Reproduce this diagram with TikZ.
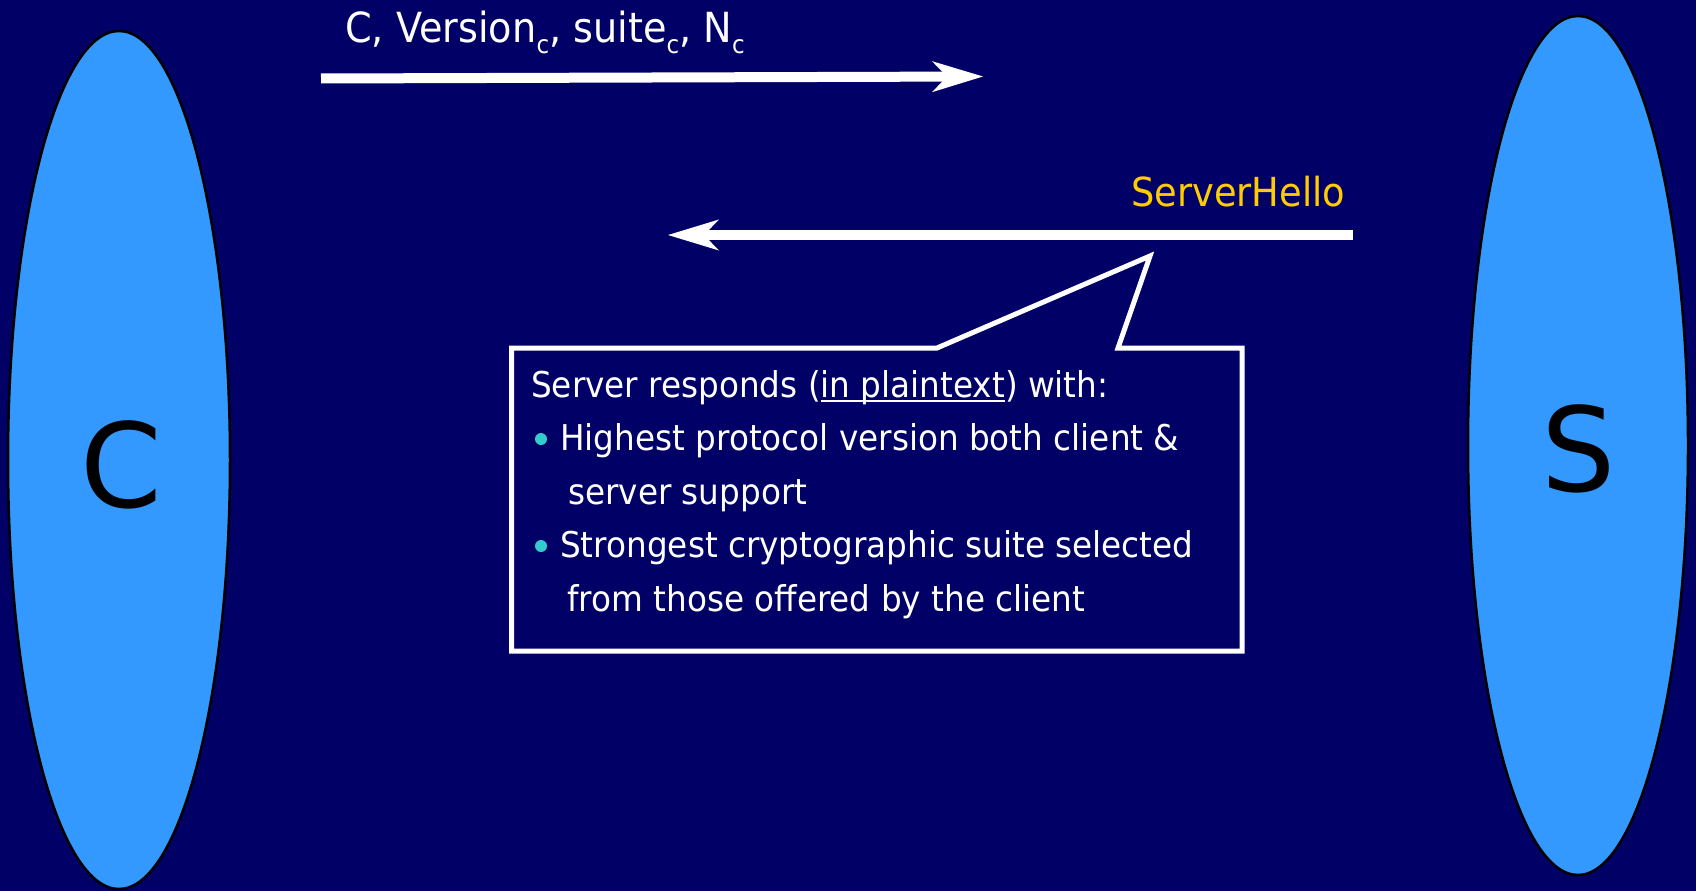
\documentclass[tikz,border=0pt]{standalone}
\usepackage{fontspec}
\setmainfont{DejaVu Sans}[FakeStretch=0.92]
\newfontfamily\letterfont{DejaVu Sans}
\usetikzlibrary{arrows.meta,shapes.geometric}

\definecolor{navy}{HTML}{000066}
\definecolor{partyblue}{HTML}{3399FF}
\definecolor{gold}{HTML}{FFCC00}
\definecolor{bulletcol}{HTML}{33CCCC}

% lowered small letter used as an index
\newcommand\lowc[1]{\raisebox{-10pt}{\fontsize{25}{25}\selectfont #1}}
% underline with a fixed rule
\newcommand\plainul[1]{\setbox0\hbox{#1}\rlap{\rule[-4.5pt]{\wd0}{2pt}}\box0}

\begin{document}
\begin{tikzpicture}[x=1pt,y=-1pt,
  party/.style={ellipse, draw=black, line width=2.5pt, fill=partyblue, inner sep=0pt},
  letter/.style={font=\letterfont\fontsize{117}{117}\selectfont, text=black, inner sep=0pt},
  msg/.style={draw=white, line width=10pt,
    -{Stealth[length=51pt,width=31pt,inset=15pt,line width=0pt]}},
  lbl/.style={inner sep=0pt, anchor=base west, text=white,
    font=\fontsize{41.5}{41.5}\selectfont},
  body/.style={inner sep=0pt, anchor=base west, text=white,
    font=\fontsize{35.5}{35.5}\selectfont},
  callout/.style={draw=white, line width=5pt, fill=navy, line join=miter},
  dot/.style={circle, fill=bulletcol, inner sep=0pt, minimum size=12pt},
]
% background
\fill[navy] (0,0) rectangle (1696,891);
\useasboundingbox (0,0) rectangle (1696,891);

% the two parties
\node[party, minimum width=222pt, minimum height=858pt] (cli) at (119,460) {};
\node[letter] (cliname) at (121,465) {C};
\node[party, minimum width=220pt, minimum height=859pt] (srv) at (1578,445.5) {};
\node[letter] (srvname) at (1579,449) {S};

% client hello
\coordinate (m1s) at (321,78.5);
\coordinate (m1e) at (983,76.5);
\draw[msg] (m1s) -- (m1e);
\node[lbl] (m1) at (345,43) {C, Version\lowc{c}, suite\lowc{c}, N\lowc{c}};

% server hello
\coordinate (m2s) at (1353,235);
\coordinate (m2e) at (668,235);
\draw[msg] (m2s) -- (m2e);
\node[lbl, text=gold, font=\fontsize{40}{40}\selectfont] (m2) at (1131,206) {ServerHello};

% callout box with its pointer
\draw[callout] (511.5,348) -- (937,348) -- (1150,256) -- (1118,348)
  -- (1242,348) -- (1242,651) -- (511.5,651) -- cycle;

\node[body] (t1) at (531,397) {Server responds (\plainul{in plaintext}) with:};
\node[dot] (b1) at (541,439) {};
\node[body] (t2) at (560,450.5) {Highest protocol version both client \&};
\node[body] (t3) at (568,504) {server support};
\node[dot] (b2) at (541,546) {};
\node[body] (t4) at (560,557.5) {Strongest cryptographic suite selected};
\node[body] (t5) at (567,611) {from those offered by the client};
\end{tikzpicture}
\end{document}
